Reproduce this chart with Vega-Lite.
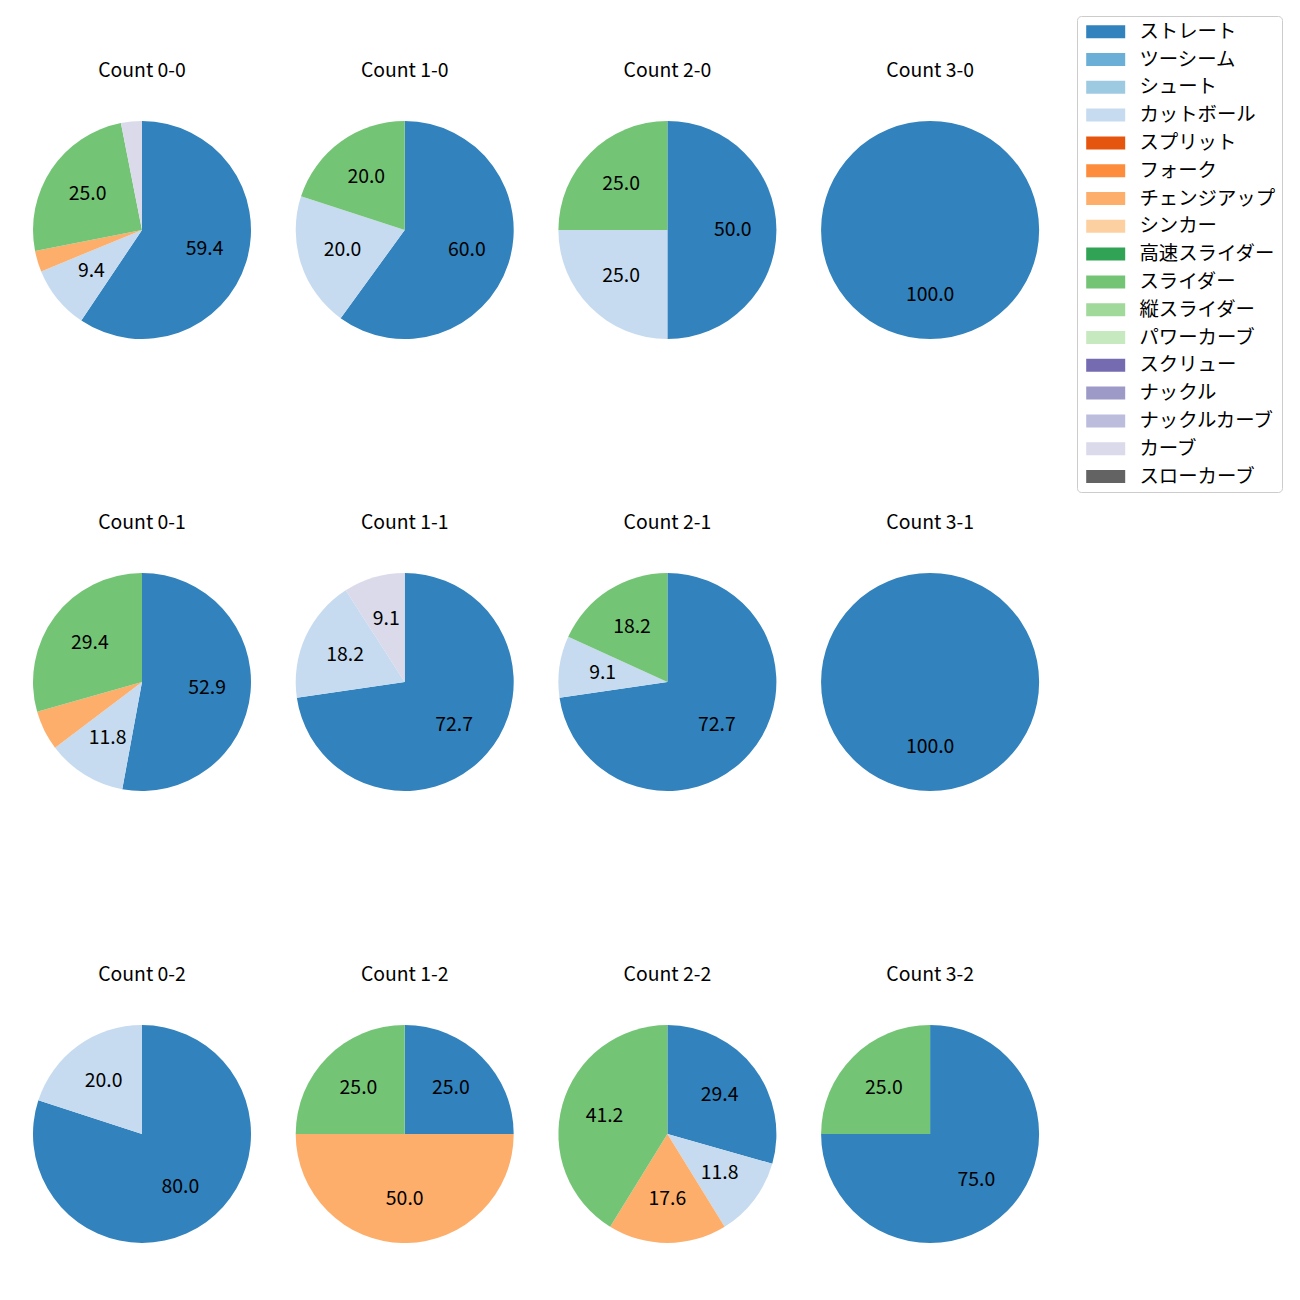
{
  "$schema": "https://vega.github.io/schema/vega-lite/v6.json",
  "padding": {"left": 33, "top": 15, "right": 0, "bottom": 0},
  "autosize": {"type": "pad"},
  "config": {"view": {"stroke": null}, "font": "Noto Sans CJK JP"},
  "data": {"values": [
    {"count": "Count 0-0", "pitch": "ストレート", "rank": 1, "value": 59.4},
    {"count": "Count 0-0", "pitch": "カットボール", "rank": 4, "value": 9.4},
    {"count": "Count 0-0", "pitch": "チェンジアップ", "rank": 7, "value": 3.1},
    {"count": "Count 0-0", "pitch": "スライダー", "rank": 10, "value": 25.0},
    {"count": "Count 0-0", "pitch": "カーブ", "rank": 16, "value": 3.1},
    {"count": "Count 1-0", "pitch": "ストレート", "rank": 1, "value": 60.0},
    {"count": "Count 1-0", "pitch": "カットボール", "rank": 4, "value": 20.0},
    {"count": "Count 1-0", "pitch": "スライダー", "rank": 10, "value": 20.0},
    {"count": "Count 2-0", "pitch": "ストレート", "rank": 1, "value": 50.0},
    {"count": "Count 2-0", "pitch": "カットボール", "rank": 4, "value": 25.0},
    {"count": "Count 2-0", "pitch": "スライダー", "rank": 10, "value": 25.0},
    {"count": "Count 3-0", "pitch": "ストレート", "rank": 1, "value": 100.0},
    {"count": "Count 0-1", "pitch": "ストレート", "rank": 1, "value": 52.9},
    {"count": "Count 0-1", "pitch": "カットボール", "rank": 4, "value": 11.8},
    {"count": "Count 0-1", "pitch": "チェンジアップ", "rank": 7, "value": 5.9},
    {"count": "Count 0-1", "pitch": "スライダー", "rank": 10, "value": 29.4},
    {"count": "Count 1-1", "pitch": "ストレート", "rank": 1, "value": 72.7},
    {"count": "Count 1-1", "pitch": "カットボール", "rank": 4, "value": 18.2},
    {"count": "Count 1-1", "pitch": "カーブ", "rank": 16, "value": 9.1},
    {"count": "Count 2-1", "pitch": "ストレート", "rank": 1, "value": 72.7},
    {"count": "Count 2-1", "pitch": "カットボール", "rank": 4, "value": 9.1},
    {"count": "Count 2-1", "pitch": "スライダー", "rank": 10, "value": 18.2},
    {"count": "Count 3-1", "pitch": "ストレート", "rank": 1, "value": 100.0},
    {"count": "Count 0-2", "pitch": "ストレート", "rank": 1, "value": 80.0},
    {"count": "Count 0-2", "pitch": "カットボール", "rank": 4, "value": 20.0},
    {"count": "Count 1-2", "pitch": "ストレート", "rank": 1, "value": 25.0},
    {"count": "Count 1-2", "pitch": "チェンジアップ", "rank": 7, "value": 50.0},
    {"count": "Count 1-2", "pitch": "スライダー", "rank": 10, "value": 25.0},
    {"count": "Count 2-2", "pitch": "ストレート", "rank": 1, "value": 29.4},
    {"count": "Count 2-2", "pitch": "カットボール", "rank": 4, "value": 11.8},
    {"count": "Count 2-2", "pitch": "チェンジアップ", "rank": 7, "value": 17.6},
    {"count": "Count 2-2", "pitch": "スライダー", "rank": 10, "value": 41.2},
    {"count": "Count 3-2", "pitch": "ストレート", "rank": 1, "value": 75.0},
    {"count": "Count 3-2", "pitch": "スライダー", "rank": 10, "value": 25.0}
  ]},
  "facet": {
    "field": "count", "type": "nominal",
    "sort": ["Count 0-0", "Count 1-0", "Count 2-0", "Count 3-0", "Count 0-1", "Count 1-1", "Count 2-1", "Count 3-1", "Count 0-2", "Count 1-2", "Count 2-2", "Count 3-2"],
    "header": {"title": null, "labelFontSize": 19.4, "labelFont": "Noto Sans CJK JP", "labelColor": "black", "labelPadding": 40}
  },
  "columns": 4,
  "spacing": {"column": 44.7, "row": 173},
  "resolve": {"scale": {"theta": "independent"}},
  "spec": {
    "width": 218,
    "height": 218,
    "encoding": {
      "theta": {"field": "value", "type": "quantitative", "stack": true},
      "order": {"field": "rank", "type": "quantitative", "sort": "ascending"},
      "color": {
        "field": "pitch", "type": "nominal",
        "sort": ["ストレート", "ツーシーム", "シュート", "カットボール", "スプリット", "フォーク", "チェンジアップ", "シンカー", "高速スライダー", "スライダー", "縦スライダー", "パワーカーブ", "スクリュー", "ナックル", "ナックルカーブ", "カーブ", "スローカーブ"],
        "scale": {
          "domain": ["ストレート", "ツーシーム", "シュート", "カットボール", "スプリット", "フォーク", "チェンジアップ", "シンカー", "高速スライダー", "スライダー", "縦スライダー", "パワーカーブ", "スクリュー", "ナックル", "ナックルカーブ", "カーブ", "スローカーブ"],
          "range": ["#3182bd", "#6baed6", "#9ecae1", "#c6dbef", "#e6550d", "#fd8d3c", "#fdae6b", "#fdd0a2", "#31a354", "#74c476", "#a1d99b", "#c7e9c0", "#756bb1", "#9e9ac8", "#bcbddc", "#dadaeb", "#636363"]
        },
        "legend": {
          "title": null, "orient": "none", "legendX": 1044, "legendY": -105,
          "symbolType": "M-1,-1H5V1H-1Z", "symbolSize": 169, "symbolStrokeWidth": 0, "symbolOpacity": 1,
          "labelFontSize": 19.4, "labelFont": "Noto Sans CJK JP", "labelColor": "black", "labelLimit": 300,
          "rowPadding": 6.8, "labelOffset": 37, "padding": 6,
          "strokeColor": "#cccccc", "cornerRadius": 4, "fillColor": "white"
        }
      }
    },
    "layer": [
      {"mark": {"type": "arc"}},
      {
        "mark": {"type": "text", "radius": 65.4, "fontSize": 19.4, "font": "Noto Sans CJK JP", "align": "center", "baseline": "middle"},
        "encoding": {
          "text": {"field": "value", "type": "quantitative", "format": ".1f"},
          "fill": {"value": "black"},
          "opacity": {"condition": {"test": "datum.value < 7", "value": 0}, "value": 1}
        }
      }
    ]
  }
}
